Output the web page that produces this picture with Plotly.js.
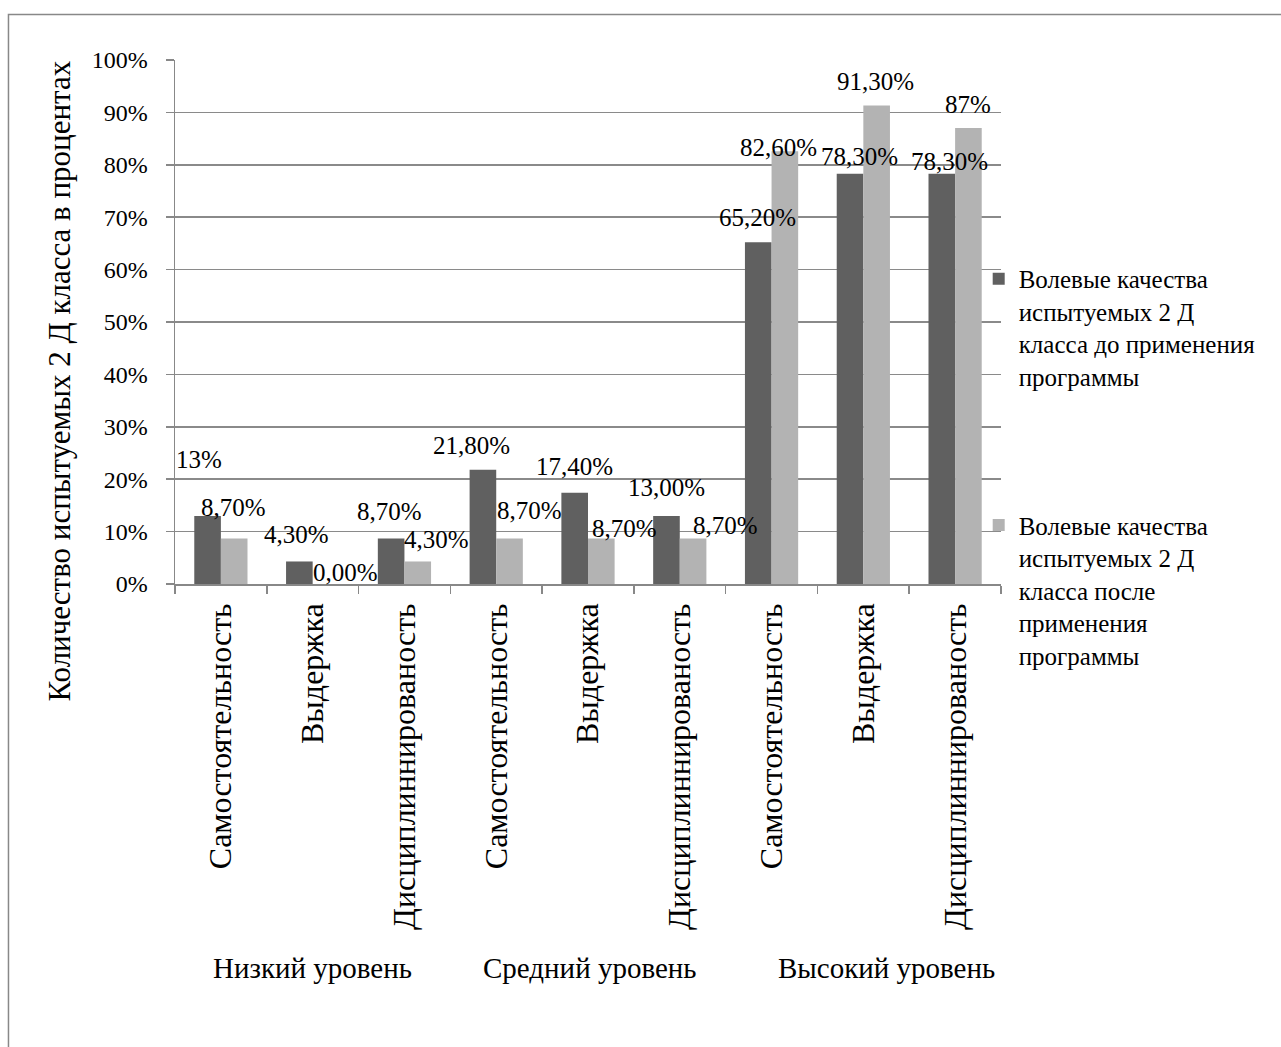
<!DOCTYPE html>
<html>
<head>
<meta charset="utf-8">
<script src="https://cdn.plot.ly/plotly-3.0.1.min.js"></script>
<style>
html,body{margin:0;padding:0;background:#fff;}
#chart{width:1281px;height:1047px;}
</style>
</head>
<body>
<div id="chart"></div>
<script>
// ---- data ----
const categories = ["Самостоятельность","Выдержка","Дисциплиннированость",
                    "Самостоятельность","Выдержка","Дисциплиннированость",
                    "Самостоятельность","Выдержка","Дисциплиннированость"];
const groups = ["Низкий уровень","Средний уровень","Высокий уровень"];
const seriesNames = [
  "Волевые качества<br>испытуемых 2 Д<br>класса до применения<br>программы",
  "Волевые качества<br>испытуемых 2 Д<br>класса после<br>применения<br>программы"
];
const before = [13, 4.3, 8.7, 21.8, 17.4, 13.0, 65.2, 78.3, 78.3];
const after  = [8.7, 0.0, 4.3, 8.7, 8.7, 8.7, 82.6, 91.3, 87];
const beforeLabels = ["13%","4,30%","8,70%","21,80%","17,40%","13,00%","65,20%","78,30%","78,30%"];
const afterLabels  = ["8,70%","0,00%","4,30%","8,70%","8,70%","8,70%","82,60%","91,30%","87%"];
const yTickVals = [0,10,20,30,40,50,60,70,80,90,100];
const yTickText = ["0%","10%","20%","30%","40%","50%","60%","70%","80%","90%","100%"];
const yTitle = "Количество испытуемых 2 Д класса в процентах";

// ---- label placement (pixel offsets, style only) ----
const beforeDx = [-22,-16,-14.5,-25,-14,-13,-14,-3.5,-6];
const beforeDy = [-56,-26.5,-27,-24,-26,-28,-25,-17,-12];
const afterDx  = [13,33,32,33,36.5,46,7,12.5,13];
const afterDy  = [-31,-12,-21.5,-28,-10,-13,-4,-24,-24];
const groupDx  = [0,2,23];

const FONT = "'Liberation Serif','Times New Roman',serif";
const xIdx = categories.map((c,i)=>i);

const traces = [
  {type:'bar', x:xIdx, y:before, name:seriesNames[0], marker:{color:'#606060'},
   hoverinfo:'skip', legend:'legend'},
  {type:'bar', x:xIdx, y:after, name:seriesNames[1], marker:{color:'#b3b3b3'},
   hoverinfo:'skip', legend:'legend2'}
];

const annotations = [];
before.forEach((v,i)=>annotations.push({x:xIdx[i], y:v, xref:'x', yref:'y', text:beforeLabels[i],
  showarrow:false, xanchor:'center', yanchor:'middle', xshift:beforeDx[i], yshift:-beforeDy[i],
  font:{family:FONT,size:25,color:'#000'}}));
after.forEach((v,i)=>annotations.push({x:xIdx[i], y:v, xref:'x', yref:'y', text:afterLabels[i],
  showarrow:false, xanchor:'center', yanchor:'middle', xshift:afterDx[i], yshift:-afterDy[i],
  font:{family:FONT,size:25,color:'#000'}}));
groups.forEach((g,k)=>annotations.push({x:3*k+1, y:-0.733, xref:'x', yref:'paper', text:g,
  showarrow:false, xanchor:'center', yanchor:'middle', xshift:groupDx[k],
  font:{family:FONT,size:29,color:'#000'}}));
annotations.push({x:-0.14, y:0.387, xref:'paper', yref:'paper', text:yTitle, textangle:-90,
  showarrow:false, xanchor:'center', yanchor:'middle', font:{family:FONT,size:31,color:'#000'}});

const layout = {
  width:1281, height:1047,
  margin:{l:175, r:280, t:60, b:463},
  paper_bgcolor:'#fff', plot_bgcolor:'#fff',
  font:{family:FONT, size:23, color:'#000'},
  barmode:'group', bargap:0.42, bargroupgap:0,
  showlegend:true,
  xaxis:{
    range:[-0.5, 8.5], tickmode:'array', tickvals:xIdx, ticktext:categories,
    tickangle:-90, ticks:'', showgrid:false, zeroline:false,
    showline:true, linecolor:'#888', linewidth:1.5,
    tickfont:{family:FONT,size:32,color:'#000'}, ticklabelstandoff:5,
    minor:{tickmode:'linear', tick0:-0.5, dtick:1, ticks:'outside', ticklen:8, tickcolor:'#888', tickwidth:1.5, showgrid:false}
  },
  yaxis:{
    range:[0,100], tickmode:'array', tickvals:yTickVals, ticktext:yTickText,
    ticks:'outside', ticklen:8, tickcolor:'#888', tickwidth:1.5,
    showgrid:true, gridcolor:'#8a8a8a', gridwidth:1.5, zeroline:false,
    showline:true, linecolor:'#888', linewidth:1.5,
    tickfont:{family:FONT,size:24,color:'#000'}, ticklabelstandoff:13
  },
  legend:{x:0.973, y:0.626, xanchor:'left', yanchor:'top', valign:'top',
    bgcolor:'rgba(0,0,0,0)', font:{family:FONT,size:25,color:'#000'}},
  legend2:{x:0.973, y:0.156, xanchor:'left', yanchor:'top', valign:'top',
    bgcolor:'rgba(0,0,0,0)', font:{family:FONT,size:25,color:'#000'}},
  annotations:annotations,
  shapes:[{type:'rect', xref:'paper', yref:'paper', x0:-0.2016, x1:1.4, y0:1.0868, y1:-0.95,
    line:{color:'#888', width:1.5}, fillcolor:'rgba(0,0,0,0)', layer:'below'}]
};

Plotly.newPlot('chart', traces, layout, {staticPlot:true, displayModeBar:false});
</script>
</body>
</html>
